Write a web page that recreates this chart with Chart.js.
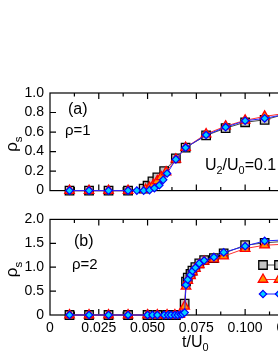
<!DOCTYPE html>
<html>
<head>
<meta charset="utf-8">
<script src="https://cdn.jsdelivr.net/npm/chart.js@4"></script>
<style>
  html, body { margin: 0; padding: 0; background: #fff; overflow: hidden; }
  #wrap { position: relative; width: 278px; height: 360px; overflow: hidden; }
  canvas { position: absolute; left: 0; }
  #top { top: 0; }
  #bot { top: 205px; }
</style>
</head>
<body>
<div id="wrap">
  <canvas id="top" width="350" height="205"></canvas>
  <canvas id="bot" width="350" height="155"></canvas>
</div>
<script>
// panel (a), rho = 1
const topSqX = [0.01, 0.02, 0.03, 0.04, 0.048, 0.05, 0.0525, 0.055, 0.0585, 0.0645, 0.0695, 0.08, 0.09, 0.10, 0.11, 0.12, 0.13, 0.14];
const topSqY = [0, 0, 0, 0, 0.02, 0.05, 0.095, 0.135, 0.20, 0.33, 0.44, 0.565, 0.64, 0.70, 0.725, 0.78, 0.80, 0.82];
const topTriX = [0.01, 0.02, 0.03, 0.04, 0.049, 0.051, 0.053, 0.055, 0.057, 0.0595, 0.0645, 0.0695, 0.08, 0.09, 0.10, 0.11, 0.12, 0.13, 0.14];
const topTriY = [0, 0, 0, 0, 0.01, 0.03, 0.06, 0.10, 0.14, 0.19, 0.32, 0.44, 0.58, 0.66, 0.72, 0.76, 0.79, 0.81, 0.83];
const topDiaX = [0.01, 0.02, 0.03, 0.04, 0.0445, 0.048, 0.051, 0.0535, 0.056, 0.058, 0.06, 0.0645, 0.0695, 0.08, 0.09, 0.10, 0.11, 0.12, 0.13, 0.14];
const topDiaY = [0, 0, 0, 0, 0, 0, 0.005, 0.025, 0.055, 0.11, 0.175, 0.32, 0.44, 0.57, 0.65, 0.715, 0.74, 0.78, 0.80, 0.82];

// panel (b), rho = 2
const botSqX = [0.01, 0.02, 0.03, 0.04, 0.05, 0.055, 0.06, 0.0645, 0.069, 0.0697, 0.0706, 0.072, 0.073, 0.0745, 0.0765, 0.079, 0.084, 0.089, 0.10, 0.11, 0.12, 0.13, 0.14];
const botSqY = [0, 0, 0, 0, 0, 0, 0, 0, 0.24, 0.70, 0.78, 0.86, 0.93, 1.00, 1.08, 1.15, 1.19, 1.29, 1.46, 1.51, 1.54, 1.56, 1.58];
const botTriX = [0.01, 0.02, 0.03, 0.04, 0.05, 0.055, 0.06, 0.064, 0.0665, 0.069, 0.0697, 0.0706, 0.072, 0.073, 0.0745, 0.0765, 0.079, 0.084, 0.089, 0.10, 0.11, 0.12, 0.13, 0.14];
const botTriY = [0, 0, 0, 0, 0, 0, 0, 0, 0.01, 0.18, 0.60, 0.72, 0.82, 0.90, 0.97, 1.05, 1.12, 1.17, 1.23, 1.39, 1.46, 1.48, 1.50, 1.51];
const botDiaX = [0.01, 0.02, 0.03, 0.04, 0.05, 0.0525, 0.055, 0.0585, 0.0605, 0.062, 0.064, 0.0655, 0.067, 0.068, 0.069, 0.0697, 0.0706, 0.072, 0.073, 0.0745, 0.0765, 0.079, 0.084, 0.089, 0.10, 0.11, 0.12, 0.13, 0.14];
const botDiaY = [0, 0, 0, 0, 0, 0, 0, 0, 0, 0, 0, 0, 0.01, 0.02, 0.05, 0.63, 0.74, 0.84, 0.92, 0.99, 1.08, 1.14, 1.21, 1.31, 1.44, 1.55, 1.57, 1.58, 1.59];

const seriesNames = ["L=12", "L=16", "L=20"];
const xTickStep = 0.0125;

const FONT = "'Liberation Sans', Arial, sans-serif";

const pts = (xs, ys) => xs.map((x, i) => ({ x: x, y: ys[i] }));

const makeSets = (sq, tri, dia) => [
  {
    label: seriesNames[2], data: dia, order: 0,
    pointStyle: "rectRot", pointRadius: 3.7, borderWidth: 1,
    borderColor: "#2020ff", pointBorderColor: "#0000ff", pointBackgroundColor: "#00d0ff",
    pointBorderWidth: 1.2, clip: false
  },
  {
    label: seriesNames[1], data: tri, order: 1,
    pointStyle: "triangle", pointRadius: 5.5, borderWidth: 1,
    borderColor: "#ff3030", pointBorderColor: "#ff0000", pointBackgroundColor: "#ff9000",
    pointBorderWidth: 1.3, clip: false
  },
  {
    label: seriesNames[0], data: sq, order: 2,
    pointStyle: "rect", pointRadius: 6, borderWidth: 1,
    borderColor: "#444", pointBorderColor: "#000", pointBackgroundColor: "#c4c4c4",
    pointBorderWidth: 1.3, clip: false
  }
];

// subscript text helper
const drawParts = (ctx, parts, x, y, size) => {
  let cx = x;
  parts.forEach(([t, sub]) => {
    ctx.font = (sub ? size * 0.68 : size) + "px " + FONT;
    ctx.fillText(t, cx, y + (sub ? size * 0.3 : 0));
    cx += ctx.measureText(t).width;
  });
};

const frame = {
  id: "frame",
  beforeDatasetsDraw(chart, args, opts) {
    const { ctx, chartArea: a, scales } = chart;
    const x = scales.x, y = scales.y;
    ctx.save();
    ctx.strokeStyle = "#000";
    ctx.lineWidth = 1.2;
    ctx.strokeRect(a.left, a.top, a.right - a.left, a.bottom - a.top);
    ctx.beginPath();
    x.ticks.forEach((t) => {
      const px = x.getPixelForValue(t.value);
      if (px <= a.left + 1 || px >= a.right - 1) return;
      const len = Math.round(t.value / xTickStep) % 2 === 0 ? 6 : 3.5;
      ctx.moveTo(px, a.bottom); ctx.lineTo(px, a.bottom - len);
      ctx.moveTo(px, a.top); ctx.lineTo(px, a.top + len);
    });
    y.ticks.forEach((t) => {
      const py = y.getPixelForValue(t.value);
      if (py <= a.top + 1 || py >= a.bottom - 1) return;
      const len = t.label === "" ? 3.5 : 6;
      ctx.moveTo(a.left, py); ctx.lineTo(a.left + len, py);
      ctx.moveTo(a.right, py); ctx.lineTo(a.right - len, py);
    });
    ctx.stroke();

    // y title, rho_s
    ctx.fillStyle = "#000";
    ctx.textBaseline = "alphabetic";
    ctx.save();
    ctx.translate(17, (a.top + a.bottom) / 2 + 10);
    ctx.rotate(-Math.PI / 2);
    drawParts(ctx, [["ρ", false], ["s", true]], 0, 0, 17);
    ctx.restore();

    ctx.textBaseline = "middle";
    opts.texts.forEach((tx) => drawParts(ctx, tx.parts, tx.x, tx.y, tx.size));
    ctx.restore();
  },
  afterDraw(chart, args, opts) {
    if (!opts.legend) return;
    const ctx = chart.ctx;
    const sets = chart.data.datasets.slice().reverse();
    ctx.save();
    sets.forEach((ds, i) => {
      const ly = opts.legend.y + i * opts.legend.dy;
      const x0 = opts.legend.x, x1 = x0 + 16;
      ctx.strokeStyle = ds.borderColor;
      ctx.lineWidth = 1;
      ctx.beginPath(); ctx.moveTo(x0, ly); ctx.lineTo(x1, ly); ctx.stroke();
      [x0, x1].forEach((mx) => {
        ctx.fillStyle = ds.pointBackgroundColor;
        ctx.strokeStyle = ds.pointBorderColor;
        ctx.lineWidth = ds.pointBorderWidth;
        ctx.beginPath();
        const r = ds.pointRadius;
        if (ds.pointStyle === "rect") {
          const s = r * Math.SQRT1_2;
          ctx.rect(mx - s, ly - s, 2 * s, 2 * s);
        } else if (ds.pointStyle === "triangle") {
          ctx.moveTo(mx, ly - r); ctx.lineTo(mx + r * 0.866, ly + r * 0.5); ctx.lineTo(mx - r * 0.866, ly + r * 0.5); ctx.closePath();
        } else {
          ctx.moveTo(mx, ly - r); ctx.lineTo(mx + r, ly); ctx.lineTo(mx, ly + r); ctx.lineTo(mx - r, ly); ctx.closePath();
        }
        ctx.fill(); ctx.stroke();
      });
      ctx.fillStyle = "#000";
      ctx.font = "14px " + FONT;
      ctx.textBaseline = "middle";
      ctx.fillText(ds.label, x1 + 9, ly);
    });
    ctx.restore();
  }
};

const xLabel = (v) => {
  const k = Math.round(v / xTickStep);
  if (k % 2 !== 0 || v > 0.13) return "";
  return k === 0 ? "0" : (k * xTickStep).toFixed(3);
};

const baseX = (showLabels, h) => ({
  type: "linear", min: 0, max: 0.15,
  grid: { display: false, drawTicks: false },
  border: { display: false },
  ticks: {
    display: showLabels, stepSize: xTickStep, autoSkip: false, maxRotation: 0, padding: 5,
    color: "#000", font: { family: FONT, size: 14 }, callback: xLabel
  },
  afterFit: (s) => { s.height = h; }
});

const baseY = (max, step, labelEvery) => ({
  min: 0, max: max,
  grid: { display: false, drawTicks: false },
  border: { display: false },
  ticks: {
    stepSize: step, padding: 6, color: "#000", font: { family: FONT, size: 14 },
    callback: (v) => {
      const k = Math.round(v / step);
      if (k % labelEvery !== 0) return "";
      return k === 0 ? "0" : (k * step).toFixed(1);
    }
  },
  afterFit: (s) => { s.width = 50; }
});

const common = {
  responsive: false,
  animation: false,
  events: [],
  plugins: { legend: { display: false }, tooltip: { enabled: false } },
  elements: { line: { tension: 0 } }
};

new Chart(document.getElementById("top"), {
  type: "line",
  data: { datasets: makeSets(pts(topSqX, topSqY), pts(topTriX, topTriY), pts(topDiaX, topDiaY)) },
  options: {
    ...common,
    layout: { padding: { top: 93, bottom: 8, left: 0, right: 6 } },
    scales: { x: baseX(false, 0), y: baseY(1, 0.1, 2) },
    plugins: {
      ...common.plugins,
      frame: {
        texts: [
          { parts: [["(a)", false]], x: 68, y: 110, size: 16 },
          { parts: [["ρ=1", false]], x: 65, y: 131, size: 15 },
          { parts: [["U", false], ["2", true], ["/U", false], ["0", true], ["=0.1", false]], x: 205, y: 166, size: 16 }
        ]
      }
    }
  },
  plugins: [frame]
});

new Chart(document.getElementById("bot"), {
  type: "line",
  data: { datasets: makeSets(pts(botSqX, botSqY), pts(botTriX, botTriY), pts(botDiaX, botDiaY)) },
  options: {
    ...common,
    layout: { padding: { top: 11, bottom: 0, left: 0, right: 6 } },
    scales: { x: baseX(true, 45), y: baseY(2, 0.25, 2) },
    plugins: {
      ...common.plugins,
      frame: {
        texts: [
          { parts: [["(b)", false]], x: 74, y: 37, size: 16 },
          { parts: [["ρ=2", false]], x: 72, y: 60, size: 15 },
          { parts: [["t/U", false], ["0", true]], x: 182, y: 138, size: 16 }
        ],
        legend: { x: 263, y: 60, dy: 14.5 }
      }
    }
  },
  plugins: [frame]
});
</script>
</body>
</html>
